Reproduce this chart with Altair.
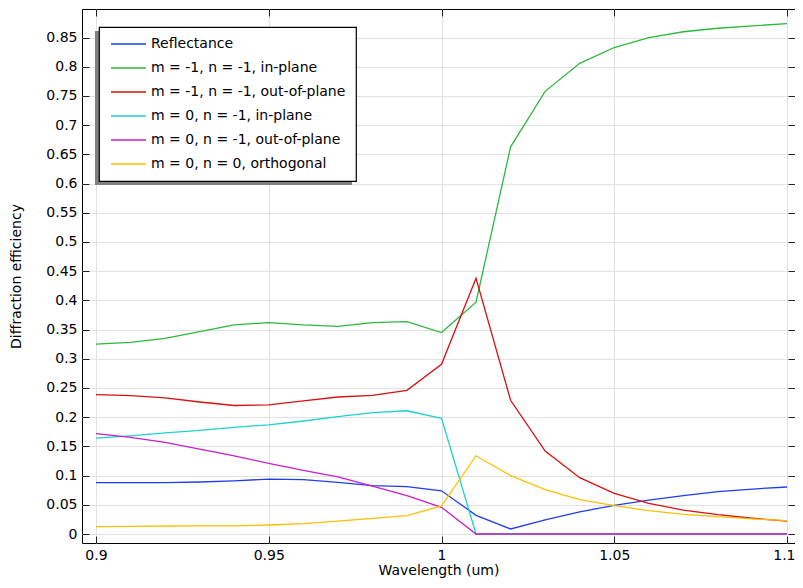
import altair as alt
import pandas as pd

wavelength = [0.90, 0.91, 0.92, 0.93, 0.94, 0.95, 0.96, 0.97, 0.98, 0.99, 1.00,
              1.01, 1.02, 1.03, 1.04, 1.05, 1.06, 1.07, 1.08, 1.09, 1.10]

series_names = [
    "Reflectance",
    "m = -1, n = -1, in-plane",
    "m = -1, n = -1, out-of-plane",
    "m = 0, n = -1, in-plane",
    "m = 0, n = -1, out-of-plane",
    "m = 0, n = 0, orthogonal",
]

reflectance = [0.088, 0.088, 0.088, 0.089, 0.091, 0.094, 0.093, 0.0885, 0.083, 0.081, 0.074,
               0.032, 0.0086, 0.024, 0.038, 0.049, 0.058, 0.0656, 0.0725, 0.077, 0.0805]
m1n1_in = [0.325, 0.328, 0.335, 0.3465, 0.358, 0.362, 0.358, 0.3556, 0.362, 0.3636, 0.345,
           0.397, 0.663, 0.758, 0.806, 0.833, 0.850, 0.860, 0.866, 0.870, 0.874]
m1n1_out = [0.2386, 0.237, 0.233, 0.226, 0.220, 0.221, 0.228, 0.2346, 0.2374, 0.246, 0.2905,
            0.438, 0.229, 0.142, 0.0965, 0.0696, 0.0525, 0.041, 0.033, 0.027, 0.022]
m0n1_in = [0.164, 0.168, 0.173, 0.1775, 0.1827, 0.187, 0.1935, 0.2009, 0.2077, 0.211, 0.198,
           0.0, 0.0, 0.0, 0.0, 0.0, 0.0, 0.0, 0.0, 0.0, 0.0]
m0n1_out = [0.1718, 0.1655, 0.157, 0.1455, 0.1336, 0.121, 0.109, 0.098, 0.082, 0.0656, 0.0457,
            0.0, 0.0, 0.0, 0.0, 0.0, 0.0, 0.0, 0.0, 0.0, 0.0]
m0n0_orth = [0.0126, 0.013, 0.0137, 0.014, 0.014, 0.0154, 0.0177, 0.0222, 0.0268, 0.0314, 0.048,
             0.134, 0.100, 0.076, 0.059, 0.0485, 0.040, 0.0337, 0.0297, 0.026, 0.0228]

colors = ["#1f3ef0", "#2db83d", "#d81010", "#1ed0d0", "#c81ec8", "#ffbf00"]

x_ticks = [0.9, 0.95, 1.0, 1.05, 1.1]
y_ticks = [0, 0.05, 0.1, 0.15, 0.2, 0.25, 0.3, 0.35, 0.4, 0.45, 0.5,
           0.55, 0.6, 0.65, 0.7, 0.75, 0.8, 0.85]

all_series = [reflectance, m1n1_in, m1n1_out, m0n1_in, m0n1_out, m0n0_orth]
rows = []
for name, vals in zip(series_names, all_series):
    for w, v in zip(wavelength, vals):
        rows.append({"wavelength": w, "efficiency": v, "series": name})
df = pd.DataFrame(rows)

FONT = "DejaVu Sans"
xscale = alt.Scale(domain=[0.895948, 1.102315], nice=False, zero=False)
yscale = alt.Scale(domain=[-0.01541, 0.89897], nice=False, zero=False)
TICK = 7

shadow = alt.Chart(pd.DataFrame({"a": [0]})).mark_rect(color="#808080").encode(
    x=alt.value(13), x2=alt.value(270), y=alt.value(22), y2=alt.value(176)
)

lines = alt.Chart(df).mark_line(strokeWidth=1.3, clip=True).encode(
    x=alt.X("wavelength:Q", scale=xscale,
            axis=alt.Axis(orient="bottom", values=x_ticks, format=".2~f",
                          title="Wavelength (um)", grid=True, ticks=False, tickSize=0,
                          domain=False, labelPadding=5, titlePadding=1,
                          labelFlush=10, labelFlushOffset=8)),
    y=alt.Y("efficiency:Q", scale=yscale,
            axis=alt.Axis(orient="left", values=y_ticks, format=".2~f",
                          title="Diffraction efficiency", grid=True, ticks=False, tickSize=0,
                          domain=False, labelPadding=5, titlePadding=22)),
    color=alt.Color("series:N", sort=series_names,
                    scale=alt.Scale(domain=series_names, range=colors),
                    legend=alt.Legend(title=None, orient="none", legendX=17, legendY=18,
                                      symbolType="M-1,0H6", symbolSize=100,
                                      symbolStrokeWidth=1.5, labelOffset=28,
                                      labelFontSize=14, labelFont=FONT, labelColor="black",
                                      labelLimit=0, padding=10, rowPadding=10,
                                      fillColor="white", strokeColor="black")),
)

ticks_bl = alt.Chart(df).mark_point(opacity=0).encode(
    x=alt.X("wavelength:Q", scale=xscale,
            axis=alt.Axis(orient="bottom", values=x_ticks, labels=False, title=None,
                          grid=False, domain=False, ticks=True, tickSize=TICK, offset=-TICK)),
    y=alt.Y("efficiency:Q", scale=yscale,
            axis=alt.Axis(orient="left", values=y_ticks, labels=False, title=None,
                          grid=False, domain=False, ticks=True, tickSize=TICK, offset=-TICK)),
)

ticks_tr = alt.Chart(df).mark_point(opacity=0).encode(
    x=alt.X("wavelength:Q", scale=xscale,
            axis=alt.Axis(orient="top", values=x_ticks, labels=False, title=None,
                          grid=False, domain=False, ticks=True, tickSize=TICK, offset=-TICK)),
    y=alt.Y("efficiency:Q", scale=yscale,
            axis=alt.Axis(orient="right", values=y_ticks, labels=False, title=None,
                          grid=False, domain=False, ticks=True, tickSize=TICK, offset=-TICK)),
)

chart = alt.layer(shadow, lines, ticks_bl, ticks_tr).resolve_axis(
    x="independent", y="independent"
).properties(
    width=713, height=534,
    autosize=alt.AutoSizeParams(type="none"),
    padding={"left": 74, "top": 1, "right": 0, "bottom": 37},
).configure_view(
    stroke="black", strokeWidth=1
).configure_axis(
    labelFont=FONT, labelFontSize=14, labelColor="black",
    titleFont=FONT, titleFontSize=14, titleColor="black", titleFontWeight="normal",
    gridColor="#e2e2e2", gridWidth=1, tickColor="#222222", tickWidth=1,
).configure_legend(
    strokeWidth=1.2
)

chart.save("out.html", embed_options={"renderer": "svg", "actions": False})
